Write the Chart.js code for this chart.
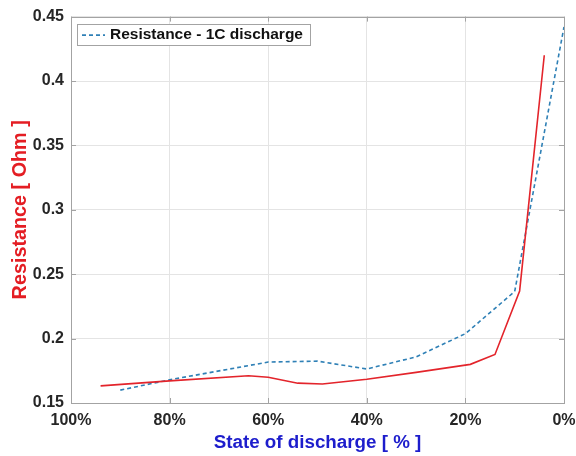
<!DOCTYPE html>
<html>
<head>
<meta charset="utf-8">
<title>Resistance vs state of discharge</title>
<script src="https://cdn.jsdelivr.net/npm/chart.js@4/dist/chart.umd.min.js"></script>
<style>
  html, body { margin: 0; padding: 0; background: #ffffff; }
  #wrap { width: 576px; height: 456px; }
</style>
</head>
<body>
<div id="wrap"><canvas id="chart" width="576" height="456"></canvas></div>
<script>
// Measured resistance (Ohm) against state of discharge (%)
const redSoD = [94, 80, 64, 60, 54, 49, 40, 30, 19, 14, 9, 4];
const redOhm = [0.1633, 0.1672, 0.1712, 0.1700, 0.1654, 0.1648, 0.1685, 0.1738, 0.1800, 0.1877, 0.2370, 0.4200];

// 1C discharge resistance curve
const blueLabel = 'Resistance - 1C discharge';
const blueSoD = [90, 80, 60, 50, 40, 30, 20, 10, 0];
const blueOhm = [0.1600, 0.1680, 0.1818, 0.1825, 0.1764, 0.1858, 0.2038, 0.2366, 0.4420];

// Axis ticks
const xTickValues = [0, 20, 40, 60, 80, 100];
const xTickLabels = ['0%', '20%', '40%', '60%', '80%', '100%'];
const yTickValues = [0.15, 0.2, 0.25, 0.3, 0.35, 0.4, 0.45];
const yTickLabels = ['0.15', '0.2', '0.25', '0.3', '0.35', '0.4', '0.45'];

const FONT = '"Liberation Sans", Arial, Helvetica, sans-serif';
const RED = '#e3242b';
const BLUE = '#2f80b6';
const BOX = '#a3a3a3';
const GRID = '#e4e4e4';
const TICK_TEXT = '#262626';

const toPoints = (xs, ys) => xs.map((x, i) => ({ x: x, y: ys[i] }));

// Axes box with short inward ticks on all four sides
const boxPlugin = {
  id: 'axesBox',
  afterDatasetsDraw(chart) {
    const { ctx, chartArea: a, scales } = chart;
    ctx.save();
    ctx.strokeStyle = BOX;
    ctx.lineWidth = 1;
    ctx.strokeRect(Math.round(a.left) + 0.5, Math.round(a.top) + 0.5,
                   Math.round(a.right - a.left), Math.round(a.bottom - a.top));
    const len = 5;
    ctx.beginPath();
    scales.x.ticks.forEach(t => {
      const px = Math.round(scales.x.getPixelForValue(t.value)) + 0.5;
      ctx.moveTo(px, a.bottom); ctx.lineTo(px, a.bottom - len);
      ctx.moveTo(px, a.top); ctx.lineTo(px, a.top + len);
    });
    scales.y.ticks.forEach(t => {
      const py = Math.round(scales.y.getPixelForValue(t.value)) + 0.5;
      ctx.moveTo(a.left, py); ctx.lineTo(a.left + len, py);
      ctx.moveTo(a.right, py); ctx.lineTo(a.right - len, py);
    });
    ctx.stroke();
    ctx.restore();
  }
};

// Boxed legend in the upper-left corner of the plot
const legendPlugin = {
  id: 'insetLegend',
  afterDraw(chart) {
    const { ctx, chartArea: a } = chart;
    const ds = chart.data.datasets.find(d => d.label === blueLabel);
    const x0 = a.left + 6, y0 = a.top + 7.5, w = 233, h = 21;
    ctx.save();
    ctx.fillStyle = '#ffffff';
    ctx.fillRect(x0, y0, w, h);
    ctx.strokeStyle = BOX;
    ctx.lineWidth = 1;
    ctx.strokeRect(Math.round(x0) + 0.5, Math.round(y0) + 0.5, w, h);
    const cy = y0 + h / 2 + 0.5;
    ctx.strokeStyle = ds.borderColor;
    ctx.lineWidth = ds.borderWidth;
    ctx.setLineDash(ds.borderDash);
    ctx.beginPath();
    ctx.moveTo(x0 + 5, cy);
    ctx.lineTo(x0 + 28, cy);
    ctx.stroke();
    ctx.setLineDash([]);
    ctx.fillStyle = '#111111';
    ctx.font = 'bold 15.5px ' + FONT;
    ctx.textBaseline = 'middle';
    ctx.textAlign = 'left';
    ctx.fillText(ds.label, x0 + 33, cy);
    ctx.restore();
  }
};

new Chart(document.getElementById('chart'), {
  type: 'line',
  data: {
    datasets: [
      {
        label: 'Resistance',
        data: toPoints(redSoD, redOhm),
        borderColor: RED,
        backgroundColor: RED,
        borderWidth: 1.6,
        pointRadius: 0,
        tension: 0,
        fill: false
      },
      {
        label: blueLabel,
        data: toPoints(blueSoD, blueOhm),
        borderColor: BLUE,
        backgroundColor: BLUE,
        borderWidth: 1.6,
        borderDash: [4, 3],
        pointRadius: 0,
        tension: 0,
        fill: false
      }
    ]
  },
  options: {
    responsive: false,
    animation: false,
    layout: { padding: { top: 13, right: 12, left: 0, bottom: 0 } },
    plugins: {
      legend: { display: false },
      tooltip: { enabled: false }
    },
    scales: {
      x: {
        type: 'linear',
        reverse: true,
        min: 0,
        max: 100,
        afterBuildTicks: s => { s.ticks = xTickValues.map(v => ({ value: v })); },
        afterFit: s => { s.height = 53; },
        grid: { color: GRID, drawTicks: false },
        border: { display: false },
        ticks: {
          padding: 8,
          color: TICK_TEXT,
          font: { family: FONT, size: 16, weight: 'bold' },
          maxRotation: 0,
          callback: v => xTickLabels[xTickValues.indexOf(v)]
        },
        title: {
          display: true,
          text: 'State of discharge [ % ]',
          color: '#1d1dcc',
          font: { family: FONT, size: 18.8, weight: 'bold' },
          padding: { top: 0, bottom: 2 }
        }
      },
      y: {
        type: 'linear',
        min: 0.15,
        max: 0.45,
        afterBuildTicks: s => { s.ticks = yTickValues.map(v => ({ value: v })); },
        afterFit: s => { s.width = 71; },
        grid: { color: GRID, drawTicks: false },
        border: { display: false },
        ticks: {
          padding: 7,
          color: TICK_TEXT,
          font: { family: FONT, size: 16, weight: 'bold' },
          callback: (v, i) => yTickLabels[i]
        },
        title: {
          display: true,
          text: 'Resistance [ Ohm ]',
          color: '#e41d23',
          font: { family: FONT, size: 19.8, weight: 'bold' },
          padding: { top: 9, bottom: 0 }
        }
      }
    }
  },
  plugins: [boxPlugin, legendPlugin]
});
</script>
</body>
</html>
